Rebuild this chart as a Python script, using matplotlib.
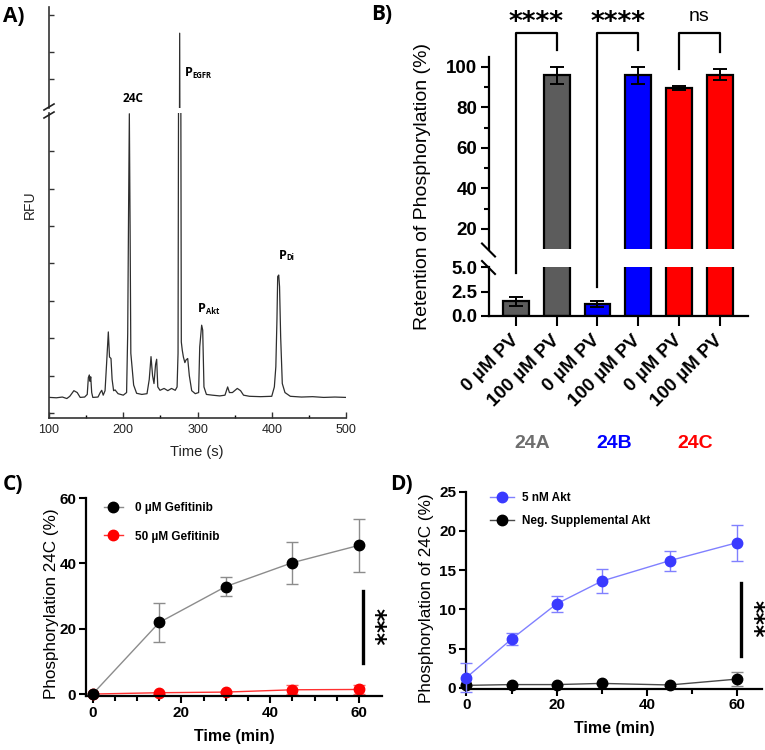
import numpy as np
import matplotlib
matplotlib.use("Agg")
import matplotlib.pyplot as plt
import matplotlib.transforms as mtransforms
from matplotlib.lines import Line2D

plt.rcParams['font.family'] = ['Liberation Sans', 'DejaVu Sans']

W, H = 765, 750

# ---- A) electropherogram, RFU in arbitrary units (read off the trace)
trace_t = [101, 110, 118, 124, 128, 133.5, 138, 142, 148, 151.5, 153.0, 154.3, 155.3, 156.2,
           157.5, 159, 166, 169, 171, 173, 175.5, 177.5, 179.9, 181.5, 183.5, 185, 187, 189,
           193, 200, 204.5, 206.0, 207.2, 208.2, 209.2, 210.2, 212, 214, 218, 225, 232, 235,
           237.4, 239.5, 241.4, 243.5, 245.0, 246.5, 249.5, 255, 260, 265, 270, 272.5, 273.8,
           274.8, 276.0, 277.2, 278.2, 279.5, 281, 283, 284.5, 286.8, 289, 292.2, 297, 301.5,
           303.0, 305.6, 307.0, 308.7, 312, 320, 330, 337, 340.6, 343, 347, 353.6, 358, 362,
           370, 385, 400, 403.5, 405.5, 407, 408.0, 409.4, 410.5, 412.0, 414.2, 417.8, 425,
           440, 455, 470, 485, 500]
trace_rfu = [0.42, 0.41, 0.43, 0.39, 0.45, 0.60, 0.55, 0.42, 0.43, 0.50, 0.95, 1.02, 0.85, 0.97,
             0.55, 0.42, 0.43, 0.55, 0.61, 0.48, 0.60, 1.30, 2.17, 1.50, 1.46, 0.90, 0.60, 0.62,
             0.52, 0.48, 0.55, 2.13, 5.50, 8.00, 5.00, 1.60, 1.20, 0.75, 0.53, 0.50, 0.52, 0.90,
             1.51, 1.00, 0.79, 1.30, 1.44, 0.70, 0.61, 0.66, 0.60, 0.66, 0.61, 0.70, 1.60,
             12.0, 22.0, 12.0, 1.90, 1.68, 1.50, 1.35, 1.42, 1.46, 1.00, 0.60, 0.52, 0.55,
             1.77, 2.35, 2.22, 0.70, 0.50, 0.48, 0.46, 0.48, 0.70, 0.55, 0.55, 0.66, 0.60, 0.48,
             0.45, 0.44, 0.45, 0.70, 1.24, 2.50, 3.65, 3.69, 3.38, 2.04, 0.79, 0.55, 0.45,
             0.43, 0.44, 0.42, 0.43, 0.42]

# ---- B) retention of phosphorylation
b_ticklabels = ["0 µM PV", "100 µM PV", "0 µM PV", "100 µM PV", "0 µM PV", "100 µM PV"]
b_vals = [1.5, 95.8, 1.2, 95.8, 89.6, 96.2]
b_err = [0.5, 4.4, 0.3, 4.0, 1.0, 2.8]
b_colors = ["#5c5c5c", "#5c5c5c", "#0000ff", "#0000ff", "#ff0000", "#ff0000"]
b_groups = ["24A", "24B", "24C"]
b_group_colors = ["#6e6e6e", "#0000ff", "#ff0000"]
b_sig_pairs = [(0, 1), (2, 3), (4, 5)]
b_sig_text = ["****", "****", "ns"]
b_sig_legs = [(4.4, 108.4), (3.0, 108.4), (99.0, 107.4)]

# ---- C) gefitinib time course
c_time = [0, 15, 30, 45, 60]
c_ctrl = [0, 21.9, 32.9, 40.2, 45.5]
c_ctrl_err = [0, 6.1, 3.0, 6.4, 8.2]
c_gef = [0, 0.4, 0.6, 1.3, 1.4]
c_gef_err = [0, 0.3, 0.4, 1.4, 1.5]

# ---- D) Akt time course
d_time = [0, 10, 20, 30, 45, 60]
d_akt = [1.3, 6.2, 10.7, 13.6, 16.2, 18.5]
d_akt_err = [1.8, 0.8, 1.0, 1.5, 1.3, 2.3]
d_neg = [0.3, 0.4, 0.4, 0.55, 0.35, 1.1]
d_neg_err = [0.1, 0.1, 0.1, 0.1, 0.1, 0.85]

fig = plt.figure(figsize=(W / 100, H / 100), dpi=100)


def px_axes(left, top, right, bottom):
    return fig.add_axes([left / W, 1 - bottom / H, (right - left) / W, (bottom - top) / H])


def ftext(x, y, s, **kw):
    return fig.text(x / W, 1 - y / H, s, **kw)


def fline(xs, ys, **kw):
    fig.add_artist(Line2D([x / W for x in xs], [1 - y / H for y in ys], **kw))


# ================= A =================
calib = ['Open Sans', 'DejaVu Sans']
axA_lo = px_axes(49, 113, 346, 418)
axA_hi = px_axes(49, 7, 346, 108)
for ax in (axA_lo, axA_hi):
    ax.plot(trace_t, trace_rfu, color='#2e2e2e', lw=0.9)
    ax.set_xlim(100, 500)
    ax.spines[['top', 'right']].set_visible(False)
    for s in ax.spines.values():
        s.set_linewidth(1.2)
        s.set_color('#333333')
    ax.tick_params(direction='in', width=1.0, color='#333333', labelleft=False)
axA_lo.set_ylim(-0.13, 8.02)
axA_hi.set_ylim(20, 22.7)
axA_hi.spines['bottom'].set_visible(False)
axA_hi.set_xticks([])
axA_hi.set_yticks([20.77, 21.5, 22.49])
axA_hi.tick_params(length=3.5)
axA_lo.set_yticks(range(0, 8))
axA_lo.set_xticks(range(100, 501, 100))
axA_lo.set_xticks(range(150, 500, 100), minor=True)
axA_lo.tick_params(axis='y', length=3.5)
axA_lo.tick_params(axis='x', which='major', length=4.5, labelsize=9, pad=4, labelcolor='#222222')
axA_lo.tick_params(axis='x', which='minor', direction='in', length=2.5, width=1.0)
for y in (107, 115):
    fline([44, 54], [y + 3, y - 3], color='#222222', lw=1.2)

ftext(30, 205, "RFU", rotation=90, ha='center', va='center', fontsize=10, color='#222222')
ftext(197, 452, "Time (s)", ha='center', va='center', fontsize=10.5, color='#222222')
ftext(133, 98, "24C", ha='center', va='center', fontsize=8.5, fontweight='bold', family=calib)
peak_tags = [("P", "EGFR", 185, 72), ("P", "Akt", 198, 308), ("P", "Di", 279, 255)]
for big, sub, x, y in peak_tags:
    ftext(x, y, big, ha='left', va='center', fontsize=9, fontweight='bold', family=calib)
    ftext(x + 7.5, y + 3, sub, ha='left', va='center', fontsize=5.5, fontweight='bold', family=calib)

# ================= B =================
axB_hi = px_axes(489, 57, 748, 249)
axB_lo = px_axes(489, 267, 748, 316)
xb = np.arange(len(b_vals))
for ax in (axB_hi, axB_lo):
    ax.bar(xb, b_vals, width=0.63, color=b_colors, edgecolor='black', linewidth=1.6, zorder=2)
    ax.errorbar(xb, b_vals, yerr=b_err, fmt='none', ecolor='black', elinewidth=1.4,
                capsize=5, capthick=1.4, zorder=3)
    ax.set_xlim(-0.66, 5.69)
    ax.spines[['top', 'right']].set_visible(False)
    for s in ax.spines.values():
        s.set_linewidth(1.6)
    ax.tick_params(axis='y', length=6, width=1.5, labelsize=13.5, pad=2.5)
axB_hi.spines['bottom'].set_visible(False)
axB_hi.set_ylim(10.1, 104.9)
axB_hi.set_yticks([20, 40, 60, 80, 100])
axB_hi.set_yticks([30, 50, 70, 90], minor=True)
axB_hi.tick_params(axis='y', which='minor', length=3.5, width=1.5)
axB_hi.set_xticks([])
axB_lo.set_ylim(0, 5.05)
axB_lo.set_yticks([0, 2.5, 5.0])
axB_lo.set_yticklabels(["0.0", "2.5", "5.0"])
axB_lo.set_xticks(xb)
axB_lo.set_xticklabels(b_ticklabels, rotation=45, ha='right', va='center',
                       rotation_mode='anchor', fontsize=13.5, fontweight='bold')
axB_lo.tick_params(axis='x', length=7, width=1.5, pad=9)
for ax in (axB_hi, axB_lo):
    for lab in ax.get_yticklabels():
        lab.set_fontweight('bold')
        lab.set_fontsize(13.5)

for y in (250, 267.5):
    fline([482, 495], [y - 6.5, y + 6.5], color='black', lw=1.5)

ftext(422, 187, "Retention of Phosphorylation (%)", rotation=90, ha='center', va='center',
      fontsize=14)

to_fig = fig.transFigure.inverted()


def b_point(x, v):
    ax = axB_lo if v <= 5.05 else axB_hi
    return to_fig.transform(ax.transData.transform((x, v)))


bracket_top = 116.8
for (i, j), txt, (li, lj) in zip(b_sig_pairs, b_sig_text, b_sig_legs):
    p = [b_point(i, li), b_point(i, bracket_top), b_point(j, bracket_top), b_point(j, lj)]
    fig.add_artist(Line2D([q[0] for q in p], [q[1] for q in p], color='black', lw=1.6))
    mx, my = b_point((i + j) / 2, bracket_top)
    if txt == "ns":
        fig.text(mx, my + 16 / H, txt, ha='center', va='center', fontsize=14)
    else:
        fig.text(mx, my + 10 / H, txt, ha='center', va='center', fontsize=19,
                 fontweight='bold', family='DejaVu Sans')

grp_tr = mtransforms.blended_transform_factory(axB_lo.transData, fig.transFigure)
for k, (g, c) in enumerate(zip(b_groups, b_group_colors)):
    axB_lo.text(2 * k + 0.4, 1 - 443 / H, g, transform=grp_tr, ha='center', va='center',
                fontsize=14, fontweight='bold', color=c)

# ================= C =================
axC = px_axes(86, 498, 382, 696)
axC.errorbar(c_time, c_ctrl, yerr=c_ctrl_err, color='#8c8c8c', lw=1.0, ecolor='#8c8c8c',
             elinewidth=1.0, capsize=4, marker='o', ms=7.5, mfc='black', mec='black',
             zorder=3, clip_on=False)
axC.errorbar(c_time, c_gef, yerr=c_gef_err, color='#ff3030', lw=1.0, ecolor='#ff6060',
             elinewidth=1.0, capsize=4, marker='o', ms=7.5, mfc='#ff0000', mec='#ff0000',
             zorder=2, clip_on=False)
axC.set_xlim(-1.5, 65.2)
axC.set_ylim(-0.6, 60)
axC.set_xticks([0, 20, 40, 60])
axC.set_xticks(np.arange(5, 65, 5), minor=True)
axC.set_yticks([0, 20, 40, 60])
axC.plot([60.9, 60.9], [9.5, 31.4], color='black', lw=2.4, clip_on=False)
axC.text(63.6, 20.5, "***", rotation=270, ha='center', va='center', fontsize=17,
         fontweight='bold', family='DejaVu Sans')
axC.set_xlabel("Time (min)", fontsize=11.5, fontweight='bold', labelpad=7)
ftext(52, 604, "Phosphorylation 24C (%)", rotation=90, ha='center', va='center', fontsize=12.3)
c_handles = [Line2D([], [], color='#8c8c8c', lw=1.0, marker='o', ms=7.5, mfc='black', mec='black'),
             Line2D([], [], color='#ff3030', lw=1.0, marker='o', ms=7.5, mfc='#ff0000', mec='#ff0000')]
axC.legend(c_handles, ["0 µM Gefitinib", "50 µM Gefitinib"], loc='upper left',
           bbox_to_anchor=(104 / W, 1 - 502 / H), bbox_transform=fig.transFigure,
           frameon=False, borderpad=0, borderaxespad=0, handlelength=1.6, handletextpad=1.0,
           labelspacing=1.4, prop={'weight': 'bold', 'size': 8.5})

# ================= D =================
axD = px_axes(466, 491.7, 762, 688.5)
axD.errorbar(d_time, d_akt, yerr=d_akt_err, color='#8080ff', lw=1.0, ecolor='#8080ff',
             elinewidth=1.0, capsize=4, marker='o', ms=7.5, mfc='#3a3aff', mec='#3a3aff',
             zorder=3, clip_on=False)
axD.errorbar(d_time, d_neg, yerr=d_neg_err, color='#4a4a4a', lw=1.0, ecolor='#8c8c8c',
             elinewidth=1.0, capsize=4, marker='o', ms=7.5, mfc='black', mec='black',
             zorder=2, clip_on=False)
axD.set_xlim(-0.1, 65.5)
axD.set_ylim(-0.1, 25)
axD.set_xticks([0, 20, 40, 60])
axD.set_xticks([10, 30, 50], minor=True)
axD.set_yticks(range(0, 26, 5))
axD.plot([60.9, 60.9], [4.0, 13.4], color='black', lw=2.4, clip_on=False)
axD.text(63.7, 8.8, "***", rotation=270, ha='center', va='center', fontsize=17,
         fontweight='bold', family='DejaVu Sans')
axD.set_xlabel("Time (min)", fontsize=11.5, fontweight='bold', labelpad=6)
ftext(427, 598, "Phosphorylation of 24C (%)", rotation=90, ha='center', va='center', fontsize=12.3)
d_handles = [Line2D([], [], color='#8080ff', lw=1.0, marker='o', ms=7.5, mfc='#3a3aff', mec='#3a3aff'),
             Line2D([], [], color='#4a4a4a', lw=1.0, marker='o', ms=7.5, mfc='black', mec='black')]
axD.legend(d_handles, ["5 nM Akt", "Neg. Supplemental Akt"], loc='upper left',
           bbox_to_anchor=(490 / W, 1 - 492 / H), bbox_transform=fig.transFigure,
           frameon=False, borderpad=0, borderaxespad=0, handlelength=2.0, handletextpad=0.7,
           labelspacing=0.95, prop={'weight': 'bold', 'size': 8.5})

for ax in (axC, axD):
    ax.spines[['top', 'right']].set_visible(False)
    for s in ax.spines.values():
        s.set_linewidth(1.6)
    ax.tick_params(which='major', length=5, width=1.5, labelsize=11, pad=2)
    ax.tick_params(which='minor', length=3.5, width=1.5)
    for lab in ax.get_xticklabels() + ax.get_yticklabels():
        lab.set_fontweight('bold')

# panel letters
for letter, x, y in [("A)", 3, 16), ("B)", 371, 14), ("C)", 3, 485), ("D)", 390, 485)]:
    ftext(x, y, letter, ha='left', va='center', fontsize=15, fontweight='bold', family=calib)

fig.savefig("out.png", dpi=100)
